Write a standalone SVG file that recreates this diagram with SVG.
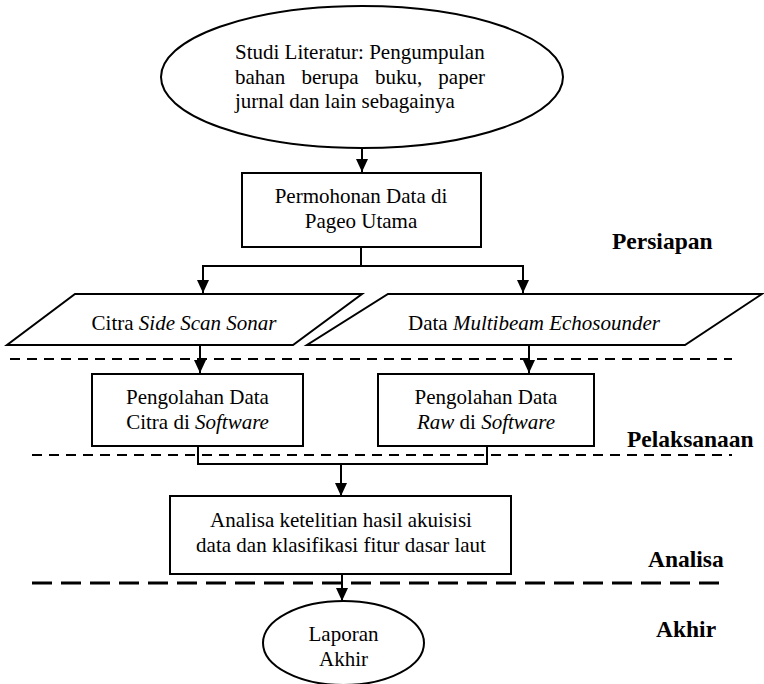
<svg xmlns="http://www.w3.org/2000/svg" width="764" height="684" viewBox="0 0 764 684">
<style>
.shape{fill:#fff;stroke:#000;stroke-width:2}
.t{font-family:"Liberation Serif","Times New Roman",serif;font-size:21px;fill:#000}
.c{text-anchor:middle}
.b{font-family:"Liberation Serif","Times New Roman",serif;font-size:23.5px;font-weight:bold;fill:#000}
.conn{fill:none;stroke:#000;stroke-width:2}
.dash{stroke:#000;stroke-width:2.2;stroke-dasharray:10 7;fill:none}
.ldash{stroke:#000;stroke-width:3;stroke-dasharray:20 9;fill:none}
</style>
<defs>
<marker id="arr" markerUnits="userSpaceOnUse" markerWidth="12" markerHeight="14" refX="6" refY="13" orient="0" viewBox="0 0 12 14">
<path d="M0,0 L12,0 L6,13 z" fill="#000"/>
</marker>
</defs>
<rect width="764" height="684" fill="#fff"/>

<g id="separators">
<line class="dash" x1="10" y1="359" x2="732" y2="359"/>
<line class="dash" x1="32" y1="455" x2="732" y2="455"/>
<line class="ldash" x1="32" y1="583" x2="728" y2="583"/>
</g>

<g id="phase-labels">
<text class="b" x="612" y="249">Persiapan</text>
<text class="b" x="627" y="447">Pelaksanaan</text>
<text class="b" x="648" y="567">Analisa</text>
<text class="b" x="656" y="637">Akhir</text>
</g>

<g id="connectors">
<line class="conn" x1="362" y1="148" x2="362" y2="172" marker-end="url(#arr)"/>
<polyline class="conn" points="361,247 361,266"/>
<polyline class="conn" points="203,293 203,266 523,266 523,293" marker-start="none"/>
<line class="conn" x1="203" y1="266" x2="203" y2="293" marker-end="url(#arr)"/>
<line class="conn" x1="523" y1="266" x2="523" y2="293" marker-end="url(#arr)"/>
<line class="conn" x1="200" y1="345" x2="200" y2="373" marker-end="url(#arr)"/>
<line class="conn" x1="529" y1="345" x2="529" y2="373" marker-end="url(#arr)"/>
<polyline class="conn" points="198,446 198,464 487,464 487,446"/>
<line class="conn" x1="341" y1="464" x2="341" y2="496" marker-end="url(#arr)"/>
<line class="conn" x1="342" y1="574" x2="342" y2="601" marker-end="url(#arr)"/>
</g>

<g id="studi-literatur">
<ellipse class="shape" cx="362" cy="77" rx="201" ry="71"/>
<text class="t" x="235" y="59">Studi Literatur: Pengumpulan</text>
<text class="t" y="84"><tspan x="235">bahan</tspan><tspan x="301.5">berupa</tspan><tspan x="375">buku,</tspan><tspan x="485" text-anchor="end">paper</tspan></text>
<text class="t" x="235" y="108">jurnal dan lain sebagainya</text>
</g>

<g id="permohonan-data">
<rect class="shape" x="242" y="173" width="239" height="74"/>
<text class="t c" x="361" y="203">Permohonan Data di</text>
<text class="t c" x="361" y="228">Pageo Utama</text>
</g>

<g id="citra-sss">
<polygon class="shape" points="75,294 362,294 293,345 7,345"/>
<text class="t c" x="184" y="330">Citra <tspan font-style="italic">Side Scan Sonar</tspan></text>
</g>

<g id="data-mbes">
<polygon class="shape" points="388,294 762,294 685,345 307,345"/>
<text class="t c" x="534" y="330">Data <tspan font-style="italic">Multibeam Echosounder</tspan></text>
</g>

<g id="olah-citra">
<rect class="shape" x="92" y="374" width="211" height="72"/>
<text class="t c" x="197.5" y="404">Pengolahan Data</text>
<text class="t c" x="197.5" y="429">Citra di <tspan font-style="italic">Software</tspan></text>
</g>

<g id="olah-raw">
<rect class="shape" x="378" y="374" width="216" height="72"/>
<text class="t c" x="486" y="404">Pengolahan Data</text>
<text class="t c" x="486" y="429"><tspan font-style="italic">Raw</tspan> di <tspan font-style="italic">Software</tspan></text>
</g>

<g id="analisa">
<rect class="shape" x="170" y="496" width="341" height="78"/>
<text class="t c" x="341" y="527">Analisa ketelitian hasil akuisisi</text>
<text class="t c" x="341" y="552">data dan klasifikasi fitur dasar laut</text>
</g>

<g id="laporan-akhir">
<ellipse class="shape" cx="343.5" cy="643" rx="80.5" ry="42"/>
<text class="t c" x="343.5" y="641">Laporan</text>
<text class="t c" x="343.5" y="666">Akhir</text>
</g>
</svg>
